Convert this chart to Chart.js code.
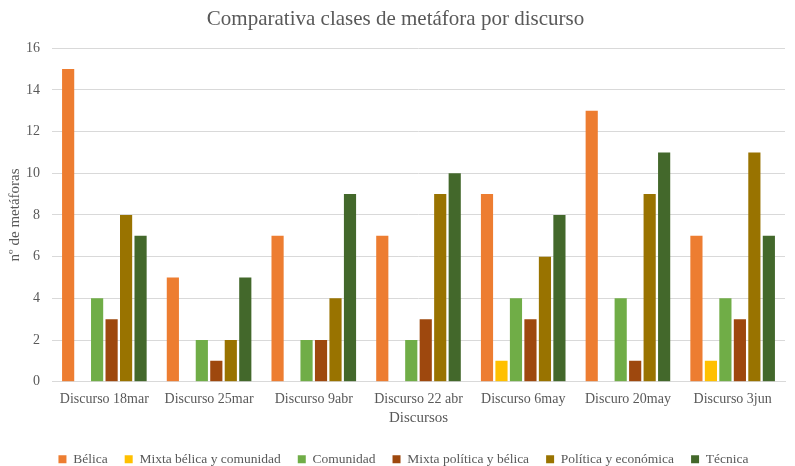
<!DOCTYPE html>
<html><head><meta charset="utf-8">
<script src="https://cdn.jsdelivr.net/npm/chart.js@4"></script>
<style>html,body{margin:0;padding:0;background:#fff}#w{width:795px;height:466px}</style>
</head><body><div id="w"><canvas id="c"></canvas></div>
<script>
const categories = ["Discurso 18mar","Discurso 25mar","Discurso 9abr","Discurso 22 abr","Discurso 6may","Discuro 20may","Discurso 3jun"];
const belica = [15,5,7,7,9,13,7];
const mixtaBelicaComunidad = [0,0,0,0,1,0,1];
const comunidad = [4,2,2,2,4,4,4];
const mixtaPoliticaBelica = [3,1,2,3,3,1,3];
const politicaEconomica = [8,2,4,9,6,9,11];
const tecnica = [7,5,9,10,8,11,7];
const yTicks = [0,2,4,6,8,10,12,14,16];

const F = "'Liberation Serif','Times New Roman',serif";
const mk = (label, data, color) => ({label, data, backgroundColor: color, borderWidth: 0, barPercentage: 0.84, categoryPercentage: 0.83});
const shiftLegend = {
  id: 'shiftLegend',
  afterLayout(chart) { const l = chart.legend; if (l) { l.left += 8; l.right += 8; } }
};
new Chart(document.getElementById('c'), {
  type: 'bar',
  data: {
    labels: categories,
    datasets: [
      mk("Bélica", belica, "#ED7D31"),
      mk("Mixta bélica y comunidad", mixtaBelicaComunidad, "#FFC000"),
      mk("Comunidad", comunidad, "#70AD47"),
      mk("Mixta política y bélica", mixtaPoliticaBelica, "#9E480E"),
      mk("Política y económica", politicaEconomica, "#997300"),
      mk("Técnica", tecnica, "#43682B")
    ]
  },
  plugins: [shiftLegend],
  options: {
    responsive: true, maintainAspectRatio: false, animation: false,
    layout: {padding: {left: 6, right: 10, top: 7, bottom: -10}},
    plugins: {
      title: {display: true, text: "Comparativa clases de metáfora por discurso", color: "#595959", font: {family: F, size: 21, weight: 'normal'}, padding: {top: 0, bottom: 16}},
      legend: {position: 'bottom', labels: {boxWidth: 8, boxHeight: 8, padding: 17, color: "#595959", font: {family: F, size: 13.5}}},
      tooltip: {enabled: false}
    },
    scales: {
      x: {
        grid: {display: false, drawTicks: false},
        border: {display: true, color: "#d9d9d9"},
        ticks: {color: "#595959", font: {family: F, size: 14}, padding: 9, maxRotation: 0},
        title: {display: true, text: "Discursos", color: "#595959", font: {family: F, size: 15}, padding: {top: -7, bottom: 8}}
      },
      y: {
        min: 0, max: 16,
        afterBuildTicks: (s) => { s.ticks = yTicks.map(v => ({value: v})); },
        afterFit: (s) => { s.width = 46; },
        grid: {color: "#d9d9d9", drawTicks: false},
        border: {display: false},
        ticks: {color: "#595959", font: {family: F, size: 14}, padding: 12},
        title: {display: true, text: "nº de metáforas", color: "#595959", font: {family: F, size: 15}, padding: {top: 0, bottom: 0}}
      }
    }
  }
});
</script></body></html>
